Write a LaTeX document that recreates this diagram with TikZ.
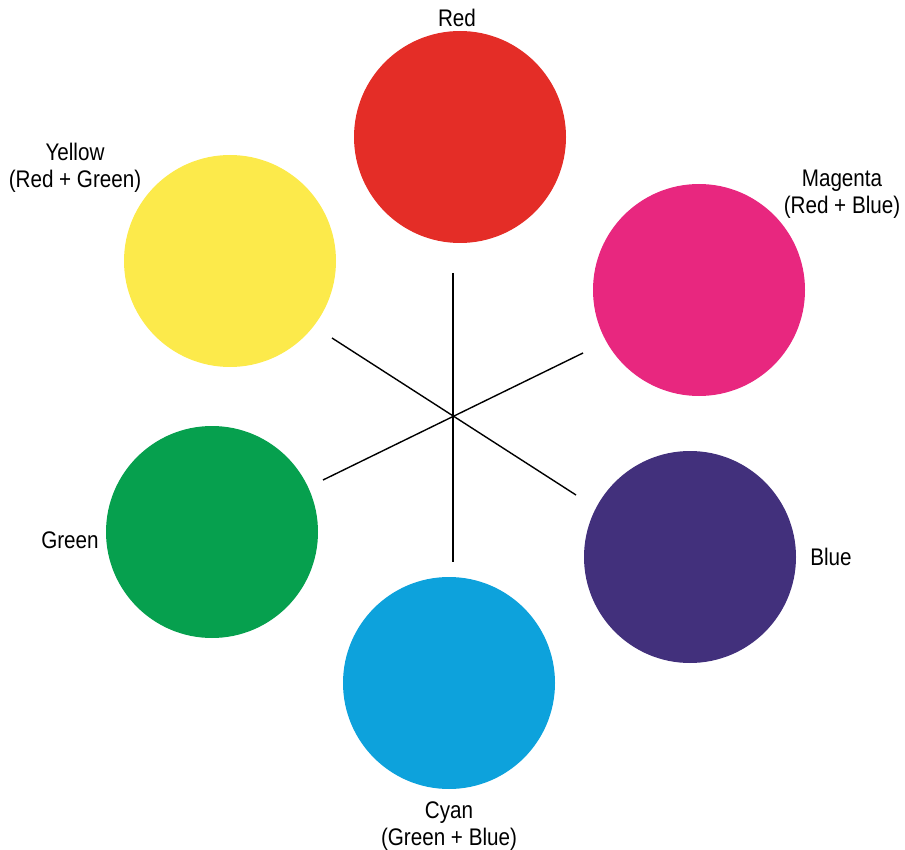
\documentclass[tikz,border=0pt]{standalone}
\usepackage{fontspec}
\setmainfont{Liberation Sans}[FakeStretch=0.86]
\usetikzlibrary{positioning}
\definecolor{redball}{HTML}{E42D27}
\definecolor{magball}{HTML}{E8277F}
\definecolor{blueball}{HTML}{42307C}
\definecolor{cyanball}{HTML}{0DA2DC}
\definecolor{greenball}{HTML}{06A04E}
\definecolor{yellowball}{HTML}{FCEA4B}

\begin{document}
\begin{tikzpicture}[x=1pt,y=-1pt,
    ball/.style={circle, minimum size=212pt, inner sep=0pt},
    lbl/.style={align=center, font=\fontsize{24}{27}\selectfont},
    spoke/.style={line width=1.4pt}]

    \useasboundingbox (0,0) rectangle (905,850);

    % Colour disks
    \node[ball, fill=redball] (red) at (460,137) {};
    \node[ball, fill=magball] (magenta) at (699,290) {};
    \node[ball, fill=blueball] (blue) at (690,557) {};
    \node[ball, fill=cyanball] (cyan) at (449,683) {};
    \node[ball, fill=greenball] (green) at (212,532) {};
    \node[ball, fill=yellowball] (yellow) at (230,261) {};

    % Labels
    \node[lbl] (redl) at (457,18) {Red};
    \node[lbl] (magl) at (842,194) {Magenta\\(Red + Blue)};
    \node[lbl] (bluel) at (831,557) {Blue};
    \node[lbl] (cyanl) at (449,826) {Cyan\\(Green + Blue)};
    \node[lbl] (greenl) at (70,540) {Green};
    \node[lbl] (yell) at (75,168) {Yellow\\(Red + Green)};

    % Spokes
    \coordinate (top) at (453,273);
    \coordinate (bot) at (453,562);
    \coordinate (ul) at (332,338);
    \coordinate (lr) at (576,495);
    \coordinate (ll) at (323,480);
    \coordinate (ur) at (583,353);

    \draw[spoke] (top) -- (bot);
    \draw[spoke] (ul) -- (lr);
    \draw[spoke] (ll) -- (ur);

\end{tikzpicture}
\end{document}
